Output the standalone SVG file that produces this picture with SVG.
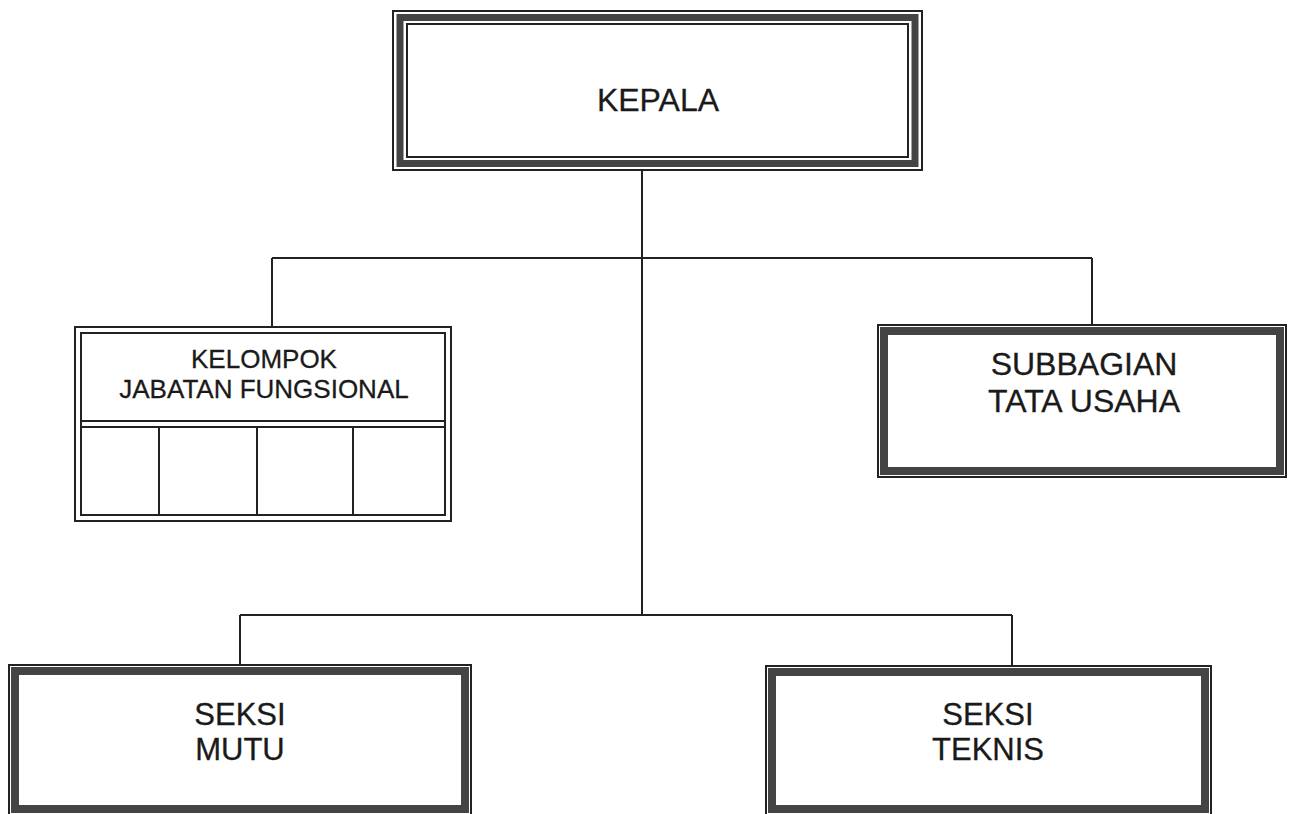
<svg xmlns="http://www.w3.org/2000/svg" width="1289" height="814" viewBox="0 0 1289 814">
<style>
.bg{fill:#fff}
.thin{fill:none;stroke:#222;stroke-width:2}
.band{fill:none;stroke:#444;stroke-width:7}
.bandB{fill:none;stroke:#444;stroke-width:8}
.fill{fill:#fff}
.conn{fill:none;stroke:#222;stroke-width:2}
.cell{fill:none;stroke:#222;stroke-width:2}
text{font-family:"Liberation Sans",Arial,sans-serif;fill:#1a1a1a;stroke:#1a1a1a;stroke-width:0.3;text-anchor:middle}
.t32{font-size:32px}
.t31{font-size:31px}
.t26{font-size:26px}
</style>
<rect class="bg" x="0" y="0" width="1289" height="814"/>
<g id="connectors">
<line class="conn" x1="642" y1="171" x2="642" y2="615"/>
<line class="conn" x1="272" y1="258" x2="1092" y2="258"/>
<line class="conn" x1="272" y1="258" x2="272" y2="326"/>
<line class="conn" x1="1092" y1="258" x2="1092" y2="324"/>
<line class="conn" x1="240" y1="615" x2="1012" y2="615"/>
<line class="conn" x1="240" y1="615" x2="240" y2="664"/>
<line class="conn" x1="1012" y1="615" x2="1012" y2="665"/>
</g>
<g id="kepala">
<rect class="fill" x="392" y="10" width="531" height="161"/>
<rect class="thin" x="393" y="11" width="529" height="159"/>
<rect class="band" x="400" y="17.5" width="515" height="146"/>
<rect class="thin" x="407" y="24" width="501" height="133"/>
<text class="t32" x="658" y="111">KEPALA</text>
</g>
<g id="kelompok">
<rect class="fill" x="74" y="326" width="378" height="196"/>
<rect class="thin" x="75" y="327" width="376" height="194"/>
<rect class="thin" x="81" y="333" width="364" height="182"/>
<line class="thin" x1="81" y1="421" x2="445" y2="421"/>
<line class="thin" x1="81" y1="427" x2="445" y2="427"/>
<line class="cell" x1="159" y1="427" x2="159" y2="515"/>
<line class="cell" x1="257" y1="427" x2="257" y2="515"/>
<line class="cell" x1="353" y1="427" x2="353" y2="515"/>
<text class="t26" x="264" y="368">KELOMPOK</text>
<text class="t26" x="264" y="398">JABATAN FUNGSIONAL</text>
</g>
<g id="subbagian">
<rect class="fill" x="877" y="324" width="410" height="154"/>
<rect class="thin" x="878" y="325" width="408" height="152"/>
<rect class="bandB" x="884" y="331" width="396" height="140"/>
<text class="t32" x="1084" y="375">SUBBAGIAN</text>
<text class="t32" x="1084" y="412">TATA USAHA</text>
</g>
<g id="seksi-mutu">
<rect class="fill" x="8" y="664" width="464" height="152"/>
<rect class="thin" x="9" y="665" width="462" height="150"/>
<rect class="bandB" x="15" y="671" width="450" height="138"/>
<text class="t31" x="240" y="725">SEKSI</text>
<text class="t31" x="240" y="760">MUTU</text>
</g>
<g id="seksi-teknis">
<rect class="fill" x="765" y="665" width="447" height="151"/>
<rect class="thin" x="766" y="666" width="445" height="149"/>
<rect class="bandB" x="772" y="672" width="433" height="137"/>
<text class="t31" x="988" y="725">SEKSI</text>
<text class="t31" x="988" y="760">TEKNIS</text>
</g>
</svg>
